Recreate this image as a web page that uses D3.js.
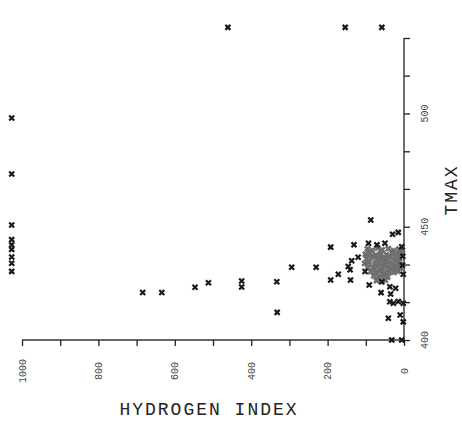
<!DOCTYPE html>
<html>
<head>
<meta charset="utf-8">
<script src="https://cdn.jsdelivr.net/npm/d3@7"></script>
<style>
  body { margin: 0; background: #fff; }
  svg { display: block; }
</style>
</head>
<body>
<div id="chart"></div>
<script>
// Hydrogen index vs Tmax (scanned plot, axes on bottom / right)
var hiTicks = [1000, 900, 800, 700, 600, 500, 400, 300, 200, 100, 0]
var hiLabels = [1000, 800, 600, 400, 200, 0]
var tmaxTicks = [400, 416.7, 433.3, 450, 466.7, 483.3, 500, 516.7, 533.3]
var tmaxLabels = [400, 450, 500]

// isolated samples [hydrogen index, tmax]
var hiValues = [
  461, 154, 58,
  1027, 1027, 1027, 1027, 1027, 1027, 1027, 1027, 1027,
  684, 634, 547, 512, 425, 425, 333, 294, 230, 332,
  87, 30, 15, 192, 131, 93, 71, 50, 6,
  192, 172, 141, 146, 137, 120, 102, 140, 91, 58, 37, 22, 60, 35,
  37, 28, 15, 2, 41, 10, 2, 32, 6, 3, 4, 2
]
var tmaxValues = [
  538, 538, 538,
  498, 473.3, 450.8, 444.3, 442, 440, 436.6, 433.9, 430.3,
  421, 421, 423.3, 425.3, 426, 423.4, 425.7, 432.1, 432.1, 412.2,
  453, 446.7, 447.5, 441, 442, 442.7, 442, 442.7, 441.2,
  426.5, 429, 431, 432.4, 435, 436.5, 430.2, 426.5, 424.3, 425.7, 423.5, 422.8, 420.9, 420.3,
  416.9, 416.2, 417, 416.2, 409.6, 411, 408, 400, 400, 437, 433, 429
]

// dense core of the cloud (prints grey in the original)
var coreHi = [
  96, 83, 69, 57, 41, 27, 13, 4,
  101, 89, 74, 61, 46, 31, 19, 7,
  98, 85, 71, 59, 49, 36, 23, 11,
  103, 92, 77, 65, 53, 42, 29, 16, 5,
  95, 81, 70, 57, 45, 33, 21, 9,
  87, 75, 63, 51, 39, 27, 15,
  79, 67, 55, 43, 72, 60, 49
]
var coreTmax = [
  440.2, 439.5, 440.6, 439.8, 440.3, 439.4, 440.1, 439.7,
  437.8, 438.3, 437.4, 438.1, 437.6, 438.4, 437.9, 438.2,
  435.9, 436.4, 435.6, 436.2, 435.8, 436.5, 435.7, 436.1,
  433.8, 434.3, 433.6, 434.1, 433.9, 434.4, 433.7, 434.2, 433.5,
  432.1, 431.7, 432.4, 431.9, 432.3, 431.6, 432.2, 431.8,
  430.2, 429.8, 430.4, 429.7, 430.1, 429.9, 430.3,
  428.3, 427.9, 428.4, 427.8, 426.2, 425.9, 426.4
]

var width = 462
var height = 434

var svg = d3
  .select('#chart')
  .append('svg')
  .attr('width', width)
  .attr('height', height)

var x = d3.scaleLinear().domain([1000, 0]).range([22, 404])
var y = d3.scaleLinear().domain([400, 533.3]).range([340, 38])

// axes
var xaxis = d3.axisBottom(x).tickValues(hiTicks).tickSize(6).tickFormat('')
var yaxis = d3.axisRight(y).tickValues(tmaxTicks).tickSize(6).tickFormat('')

var gx = svg.append('g').attr('transform', 'translate(0,340)').call(xaxis)
var gy = svg.append('g').attr('transform', 'translate(404,0)').call(yaxis)

gx.select('.domain').attr('stroke', '#333').attr('stroke-width', 1.4).attr('d', 'M22,0H404')
gy.select('.domain').attr('stroke', '#333').attr('stroke-width', 1.4).attr('d', 'M0,38V340')
svg.selectAll('.tick line').attr('stroke', '#222').attr('stroke-width', 1.3)

// rotated tick labels
svg
  .append('g')
  .selectAll('text')
  .data(hiLabels)
  .enter()
  .append('text')
  .attr('transform', (d) => 'translate(' + x(d) + ',371) rotate(-90)')
  .attr('text-anchor', 'middle')
  .attr('dy', '0.35em')
  .style('font-family', 'Liberation Mono, DejaVu Sans Mono, monospace')
  .style('font-size', '10px')
  .attr('fill', '#444')
  .text((d) => d)

svg
  .append('g')
  .selectAll('text')
  .data(tmaxLabels)
  .enter()
  .append('text')
  .attr('transform', (d) => 'translate(424,' + y(d) + ') rotate(-90)')
  .attr('text-anchor', 'middle')
  .attr('dy', '0.35em')
  .style('font-family', 'Liberation Mono, DejaVu Sans Mono, monospace')
  .style('font-size', '10px')
  .attr('fill', '#444')
  .text((d) => d)

// axis titles
svg
  .append('text')
  .attr('x', 209)
  .attr('y', 415)
  .attr('text-anchor', 'middle')
  .style('font-family', 'Liberation Mono, DejaVu Sans Mono, monospace')
  .style('font-size', '18px')
  .style('letter-spacing', '2px')
  .attr('fill', '#222')
  .text('HYDROGEN INDEX')

svg
  .append('text')
  .attr('transform', 'translate(451,190) rotate(-90)')
  .attr('text-anchor', 'middle')
  .attr('dy', '0.35em')
  .style('font-family', 'Liberation Mono, DejaVu Sans Mono, monospace')
  .style('font-size', '18px')
  .style('letter-spacing', '2px')
  .attr('fill', '#222')
  .text('TMAX')

// markers
var marker = d3.symbol().type(d3.symbolTimes).size(18)

svg
  .append('g')
  .selectAll('path')
  .data(coreHi)
  .enter()
  .append('path')
  .attr('d', marker)
  .attr('transform', (d, i) => 'translate(' + x(d) + ',' + y(coreTmax[i]) + ')')
  .attr('fill', 'none')
  .attr('stroke', '#6e6e6e')
  .attr('stroke-width', 2.6)

svg
  .append('g')
  .selectAll('path')
  .data(hiValues)
  .enter()
  .append('path')
  .attr('d', marker)
  .attr('transform', (d, i) => 'translate(' + x(d) + ',' + y(tmaxValues[i]) + ')')
  .attr('fill', 'none')
  .attr('stroke', '#1a1a1a')
  .attr('stroke-width', 2.2)
</script>
</body>
</html>
